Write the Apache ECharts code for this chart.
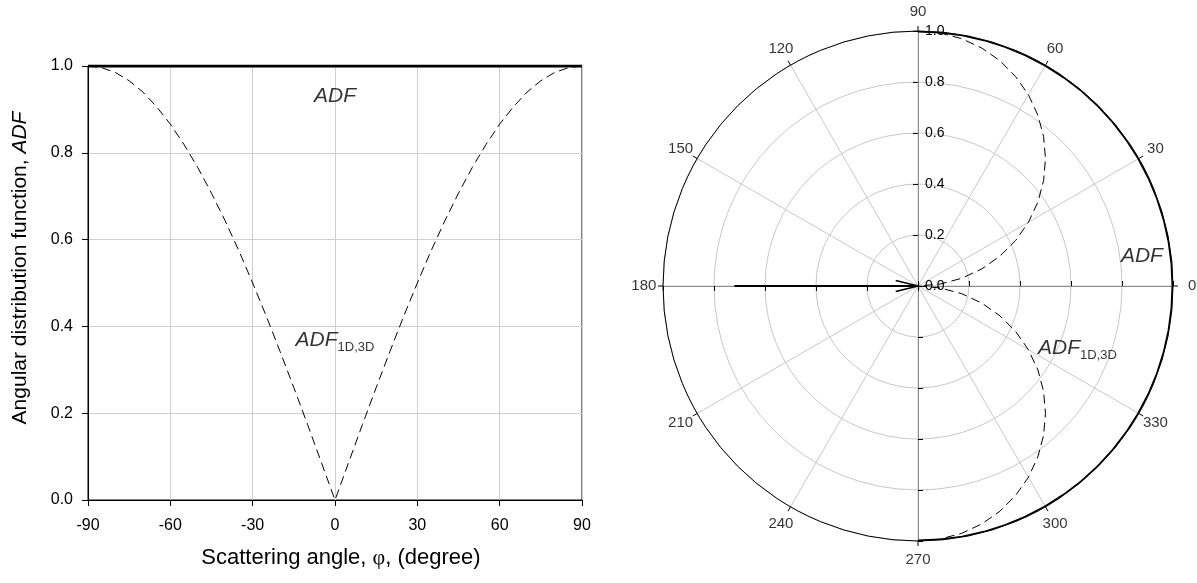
<!DOCTYPE html>
<html>
<head>
<meta charset="utf-8">
<script src="https://cdn.jsdelivr.net/npm/echarts@6/dist/echarts.min.js"></script>
<style>html,body{margin:0;padding:0;background:#fff}#c{width:1197px;height:583px}</style>
</head>
<body>
<div id="c"></div>
<script>
// ---- data ----
var phiDeg = [-90,-85,-80,-75,-70,-65,-60,-55,-50,-45,-40,-35,-30,-25,-20,-15,-10,-5,0,5,10,15,20,25,30,35,40,45,50,55,60,65,70,75,80,85,90];
var adfValues = [1,1,1,1,1,1,1,1,1,1,1,1,1,1,1,1,1,1,1,1,1,1,1,1,1,1,1,1,1,1,1,1,1,1,1,1,1];
var adf1D3DValues = [1.0,0.996,0.985,0.966,0.94,0.906,0.866,0.819,0.766,0.707,0.643,0.574,0.5,0.423,0.342,0.259,0.174,0.087,0.0,0.087,0.174,0.259,0.342,0.423,0.5,0.574,0.643,0.707,0.766,0.819,0.866,0.906,0.94,0.966,0.985,0.996,1.0];
var xTicks = [-90,-60,-30,0,30,60,90];
var yTicks = [0,0.2,0.4,0.6,0.8,1.0];
var angleTickLabels = [0,30,60,90,120,150,180,210,240,270,300,330];
var arrowShaft = [[0.72,180],[0,180]];           // [radius, angle]
var arrowHead = [[0.09,166],[0,0],[0.09,-166]];  // [radius, angle]
var leftLabelAdf = [0, 0.931];
var leftLabelAdf1D3D = [0, 0.369];
var polarLabelAdf = [0.886, 7.6];
var polarLabelAdf1D3D = [0.671, -21.2];

// ---- build ----
var FONT = 'Liberation Sans, Arial, sans-serif';
var cart = function(vals){ return phiDeg.map(function(p,i){ return [p, vals[i]]; }); };
var pol = function(vals){ return phiDeg.map(function(p,i){ return [vals[i], p]; }); };

var richLbl = {
  i: {fontStyle:'italic', fontSize:21, fontFamily:FONT, color:'#000'},
  s: {fontSize:13, fontFamily:FONT, color:'#000', padding:[16,0,0,0]}
};
function textSeries(extra, pt, txt){
  var s = {
    type:'scatter', data:[pt], symbolSize:1, itemStyle:{color:'rgba(0,0,0,0)'}, silent:true, z:10,
    label:{show:true, position:'inside', formatter:txt, rich:richLbl, align:'center', verticalAlign:'middle'}
  };
  for (var k in extra) s[k]=extra[k];
  return s;
}

var C = 918, CY = 286, R = 255;
var LABEL_R = 1.075;   // angle tick labels sit just outside the unit circle
var OUTER = 1.2;       // extent of the (invisible) label polar, same scale as the others
var hiddenAngle = function(idx, sa){ return {polarIndex:idx, type:'value', min:0, max:360, startAngle:sa, show:false}; };
var radAxis = function(idx, showLabel){
  return {
    polarIndex:idx, type:'value', min:0, max:1, interval:0.2,
    axisLine:{show:true, lineStyle:{color:'#8c8c8c', width:1}},
    axisTick:{show:true, length:5, lineStyle:{color:'#000', width:1}},
    axisLabel:{show:showLabel, color:'#000', fontSize:14, fontFamily:FONT, margin:-7, align:'left',
               formatter:function(v){return v.toFixed(1);}},
    splitLine:{show:false}
  };
};

var option = {
  animation:false,
  backgroundColor:'#fff',
  grid:{left:88, right:615, top:66, bottom:83, show:true, borderColor:'#000', borderWidth:1},
  xAxis:{
    type:'value', min:-90, max:90, interval:30,
    name:'Scattering angle, {p|φ}, (degree)', nameLocation:'middle', nameGap:47,
    nameTextStyle:{fontSize:22, fontFamily:FONT, color:'#000', padding:[0,0,0,12],
                   rich:{p:{fontSize:22, fontFamily:'Liberation Serif, DejaVu Serif, serif', color:'#000'}}},
    axisLine:{show:true, onZero:false, lineStyle:{color:'#000'}},
    axisTick:{show:true, length:6, lineStyle:{color:'#000'}},
    axisLabel:{color:'#000', fontSize:16, fontFamily:FONT, margin:18},
    splitLine:{show:true, lineStyle:{color:'#cfcfcf'}}
  },
  yAxis:{
    type:'value', min:0, max:1, interval:0.2,
    name:'Angular distribution function, {i|ADF}', nameLocation:'middle', nameGap:57,
    nameTextStyle:{fontSize:21, fontFamily:FONT, color:'#000', padding:[0,0,0,30],
                   rich:{i:{fontSize:21, fontStyle:'italic', fontFamily:FONT, color:'#000'}}},
    axisLine:{show:true, onZero:false, lineStyle:{color:'#000'}},
    axisTick:{show:true, length:6, lineStyle:{color:'#000'}},
    axisLabel:{color:'#000', fontSize:16, fontFamily:FONT, margin:15, formatter:function(v){return v.toFixed(1);}},
    splitLine:{show:true, lineStyle:{color:'#cfcfcf'}}
  },
  polar:[
    {center:[C,CY], radius:R},
    {center:[C,CY], radius:R},
    {center:[C,CY], radius:R},
    {center:[C,CY], radius:R},
    {center:[C,CY], radius:R*OUTER}
  ],
  angleAxis:[
    {
      polarIndex:0, type:'value', min:-180, max:180, interval:30, startAngle:180, clockwise:false,
      axisLine:{show:true, lineStyle:{color:'#000', width:1}},
      axisTick:{show:true, length:5, lineStyle:{color:'#000'}},
      axisLabel:{show:false},
      splitLine:{show:true, lineStyle:{color:'#c8c8c8', width:1}}
    },
    hiddenAngle(1, 90), hiddenAngle(2, 0), hiddenAngle(3, 270),
    {polarIndex:4, type:'value', min:-180, max:180, startAngle:180, clockwise:false, show:false}
  ],
  radiusAxis:[
    (function(){ var r = radAxis(0,false); r.splitLine={show:true, lineStyle:{color:'#c8c8c8', width:1}}; return r; })(),
    radAxis(1,true), radAxis(2,false), radAxis(3,false),
    {polarIndex:4, type:'value', min:0, max:OUTER, show:false}
  ],
  series:[
    {type:'line', name:'ADF', data:cart(adfValues), symbol:'none', lineStyle:{color:'#000', width:3}, z:5},
    {type:'line', name:'ADF1D3D', data:cart(adf1D3DValues), symbol:'none', lineStyle:{color:'#000', width:1, type:[9,5]}, z:5},
    textSeries({}, leftLabelAdf, '{i|ADF}'),
    textSeries({}, leftLabelAdf1D3D, '{i|ADF}{s|1D,3D}'),
    {type:'line', coordinateSystem:'polar', polarIndex:0, data:pol(adfValues), symbol:'none', lineStyle:{color:'#000', width:3}, z:5},
    {type:'line', coordinateSystem:'polar', polarIndex:0, data:pol(adf1D3DValues), symbol:'none', lineStyle:{color:'#000', width:1, type:[9,5]}, z:5},
    {type:'line', coordinateSystem:'polar', polarIndex:0, data:arrowShaft, symbol:'none', lineStyle:{color:'#000', width:2}, z:6},
    {type:'line', coordinateSystem:'polar', polarIndex:0, data:arrowHead, symbol:'none', lineStyle:{color:'#000', width:1.5}, z:6},
    textSeries({coordinateSystem:'polar', polarIndex:0}, polarLabelAdf, '{i|ADF}'),
    textSeries({coordinateSystem:'polar', polarIndex:0}, polarLabelAdf1D3D, '{i|ADF}{s|1D,3D}'),
    {
      type:'scatter', coordinateSystem:'polar', polarIndex:4, symbolSize:1, silent:true, z:10,
      itemStyle:{color:'rgba(0,0,0,0)'},
      data: angleTickLabels.map(function(a){ return {value:[LABEL_R, a > 180 ? a - 360 : a], name:String(a)}; }),
      label:{show:true, position:'inside', formatter:'{b}', color:'#000', fontSize:15, fontFamily:FONT, align:'center', verticalAlign:'middle'}
    }
  ]
};
var chart = echarts.init(document.getElementById('c'), null, {renderer:'canvas'});
chart.setOption(option);
</script>
</body>
</html>
